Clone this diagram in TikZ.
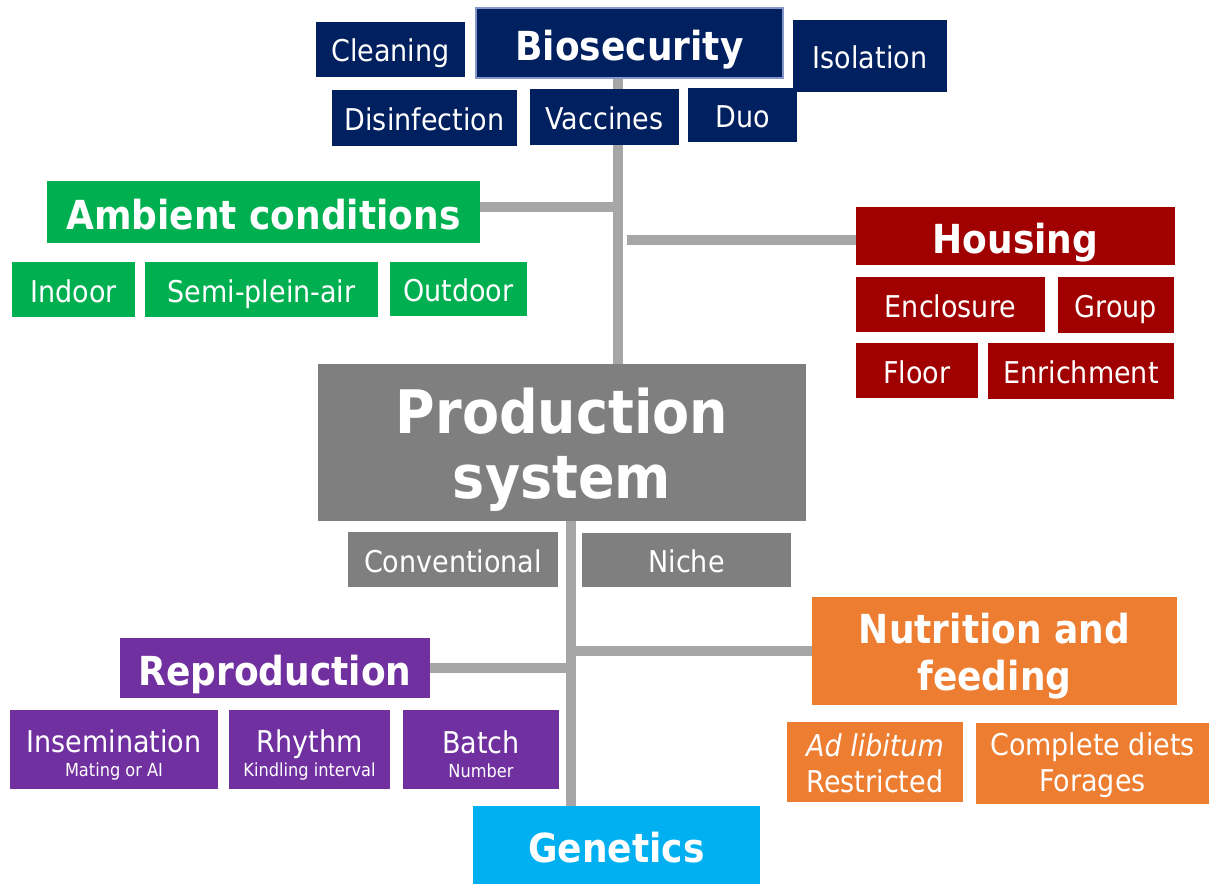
\documentclass[tikz,border=0pt]{standalone}
\usepackage{fontspec}
\setmainfont{DejaVu Sans Condensed}
\usetikzlibrary{backgrounds}

\definecolor{navy}{HTML}{002060}
\definecolor{navyline}{HTML}{8497C8}
\definecolor{leafgreen}{HTML}{00B050}
\definecolor{darkred}{HTML}{A00000}
\definecolor{prodgrey}{HTML}{7F7F7F}
\definecolor{linegrey}{HTML}{A6A6A6}
\definecolor{violet}{HTML}{7030A0}
\definecolor{feedorange}{HTML}{ED7D31}
\definecolor{skyblue}{HTML}{00B0F0}

\tikzset{
  box/.style={rectangle,inner sep=0pt,text=white,align=center,font=\fontsize{30}{36}\selectfont},
  one/.style={box,text height=25pt,text depth=0pt},
  head/.style={box,font=\bfseries\fontsize{40}{47}\selectfont,text height=34pt,text depth=0pt},
  sz/.style 2 args={minimum width=#1pt,minimum height=#2pt},
  link/.style={draw=linegrey,line width=10pt},
}
\newcommand{\subline}[1]{\\[-12pt]\fontsize{18}{24}\selectfont #1}

\begin{document}
\begin{tikzpicture}[x=1pt,y=-1pt]
\useasboundingbox (0,0) rectangle (1209,883);

\node[head,fill=navy,draw=navyline,line width=1.5pt,sz={307}{70}] (biosec) at (629.5,43) {Biosecurity};
\node[one,fill=navy,sz={149}{55}] (cleaning) at (390.5,49.5) {Cleaning};
\node[one,fill=navy,sz={154}{72}] (isolation) at (870,56) {Isolation};
\node[one,fill=navy,sz={185}{56}] (disinf) at (424.5,118) {Disinfection};
\node[one,fill=navy,sz={149}{56}] (vaccines) at (604.5,117) {Vaccines};
\node[one,fill=navy,sz={109}{54}] (duo) at (742.5,115) {Duo};

\node[head,fill=leafgreen,sz={433}{62}] (ambient) at (263.5,212) {Ambient conditions};
\node[one,fill=leafgreen,sz={123}{55}] (indoor) at (73.5,289.5) {Indoor};
\node[one,fill=leafgreen,sz={233}{55}] (semi) at (261.5,289.5) {Semi-plein-air};
\node[one,fill=leafgreen,sz={137}{54}] (outdoor) at (458.5,289) {Outdoor};

\node[head,fill=darkred,sz={319}{58}] (housing) at (1015.5,236) {Housing};
\node[one,fill=darkred,sz={189}{55}] (enclosure) at (950.5,304.5) {Enclosure};
\node[one,fill=darkred,sz={116}{56}] (group) at (1116,305) {Group};
\node[one,fill=darkred,sz={122}{55}] (floor) at (917,370.5) {Floor};
\node[one,fill=darkred,sz={186}{56}] (enrich) at (1081,371) {Enrichment};

\node[box,font=\bfseries\fontsize{60}{65}\selectfont,fill=prodgrey,sz={488}{157}] (prod) at (562,442.5) {\rule{0pt}{60pt}Production\\system};
\node[one,fill=prodgrey,sz={210}{55}] (conv) at (453,559.5) {Conventional};
\node[one,fill=prodgrey,sz={209}{54}] (niche) at (686.5,560) {Niche};

\node[box,font=\bfseries\fontsize{40}{47}\selectfont,fill=feedorange,sz={365}{108}] (nutrition) at (994.5,651) {\rule{0pt}{40pt}Nutrition and\\feeding};
\node[box,fill=feedorange,sz={176}{80}] (adlib) at (875,762) {\rule{0pt}{26pt}\textit{Ad libitum}\\Restricted};
\node[box,fill=feedorange,sz={233}{81}] (diets) at (1092.5,763.5) {\rule{0pt}{26pt}Complete diets\\Forages};

\node[head,fill=violet,sz={310}{60}] (repro) at (275,668) {Reproduction};
\node[box,fill=violet,sz={208}{79}] (insem) at (114,749.5) {\rule{0pt}{33pt}Insemination\subline{Mating or AI}};
\node[box,fill=violet,sz={161}{79}] (rhythm) at (309.5,749.5) {\rule{0pt}{33pt}Rhythm\subline{Kindling interval}};
\node[box,fill=violet,sz={156}{79}] (batch) at (481,749.5) {\rule{0pt}{33pt}Batch\subline{Number}};

\node[head,fill=skyblue,sz={287}{78}] (genetics) at (616.5,845) {Genetics};

\coordinate (vtop) at (618,0);
\coordinate (hgap) at (627,0);
\coordinate (vlow) at (571,0);

\begin{scope}[on background layer]
\draw[link] (vtop |- biosec.south) -- (vtop |- prod.north);
\draw[link] ([yshift=5pt]ambient.east) -- ([yshift=5pt]ambient.east -| vtop);
\draw[link] ([yshift=-4pt]housing.west) -- ([yshift=-4pt]housing.west -| hgap);
\draw[link] (vlow |- prod.south) -- (vlow |- genetics.north);
\draw[link] (nutrition.west) -- (nutrition.west -| vlow);
\draw[link] (repro.east) -- (repro.east -| vlow);
\end{scope}

\end{tikzpicture}
\end{document}
